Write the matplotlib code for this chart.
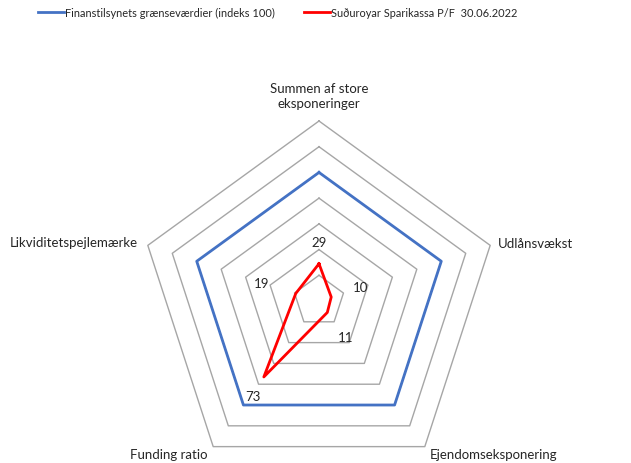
import numpy as np
import matplotlib
matplotlib.use("Agg")
import matplotlib.pyplot as plt
from matplotlib.lines import Line2D

plt.rcParams['font.family'] = ['Lato', 'DejaVu Sans']

categories = ["Summen af store\neksponeringer", "Udlånsvækst", "Ejendomseksponering",
              "Funding ratio", "Likviditetspejlemærke"]
limit_values = [100, 100, 100, 100, 100]
bank_values = [29, 10, 11, 73, 19]
ring_levels = [20, 40, 60, 80, 100, 120, 140]
series_names = ["Finanstilsynets grænseværdier (indeks 100)", "Suðuroyar Sparikassa P/F  30.06.2022"]

W, H = 631, 464
fig = plt.figure(figsize=(W / 100, H / 100), dpi=100)
cx, cy, R = 319, 302, 180
ax = fig.add_axes([(cx - R) / W, (H - cy - R) / H, 2 * R / W, 2 * R / H], projection='polar')
ax.set_theta_offset(np.pi / 2)
ax.set_theta_direction(-1)
ax.set_ylim(0, 140)
ax.grid(False)
ax.spines['polar'].set_visible(False)
ax.set_xticks([])
ax.set_yticks([])
ax.patch.set_visible(False)

n = len(categories)
ang = np.linspace(0, 2 * np.pi, n, endpoint=False)
ang_c = np.append(ang, ang[0])

for lv in ring_levels:
    ax.plot(ang_c, [lv] * (n + 1), color='#a6a6a6', lw=1.0, clip_on=False, zorder=1)

ax.plot(ang_c, limit_values + limit_values[:1], color='#4472C4', lw=2.0, clip_on=False, zorder=2)
ax.plot(ang_c, bank_values + bank_values[:1], color='#ff0000', lw=2.0, clip_on=False, zorder=3)

fs = 9.5
txt_color = '#262626'
# category labels
lab_r = [160, 146, 147, 147, 148]
has = ['center', 'left', 'left', 'right', 'right']
for a, lab, r, ha in zip(ang, categories, lab_r, has):
    ax.text(a, r, lab, ha=ha, va='center', fontsize=fs, color=txt_color, clip_on=False,
            linespacing=1.35)

# data labels
offs = [(0, 22), (29, 10), (18, -25), (-11, -19), (-34, 10)]
for a, v, o in zip(ang, bank_values, offs):
    ax.annotate(str(v), (a, v), xytext=o, textcoords='offset pixels', ha='center', va='center',
                fontsize=fs, color=txt_color, annotation_clip=False)

handles = [Line2D([], [], color='#4472C4', lw=2), Line2D([], [], color='#ff0000', lw=2)]
fig.legend(handles, series_names, loc='upper center', bbox_to_anchor=(0.44, 1.005), ncol=2,
           frameon=False, fontsize=7.9, handlelength=2.4, handletextpad=0.1, columnspacing=2.6,
           labelcolor=txt_color)

fig.savefig('out.png', dpi=100)
